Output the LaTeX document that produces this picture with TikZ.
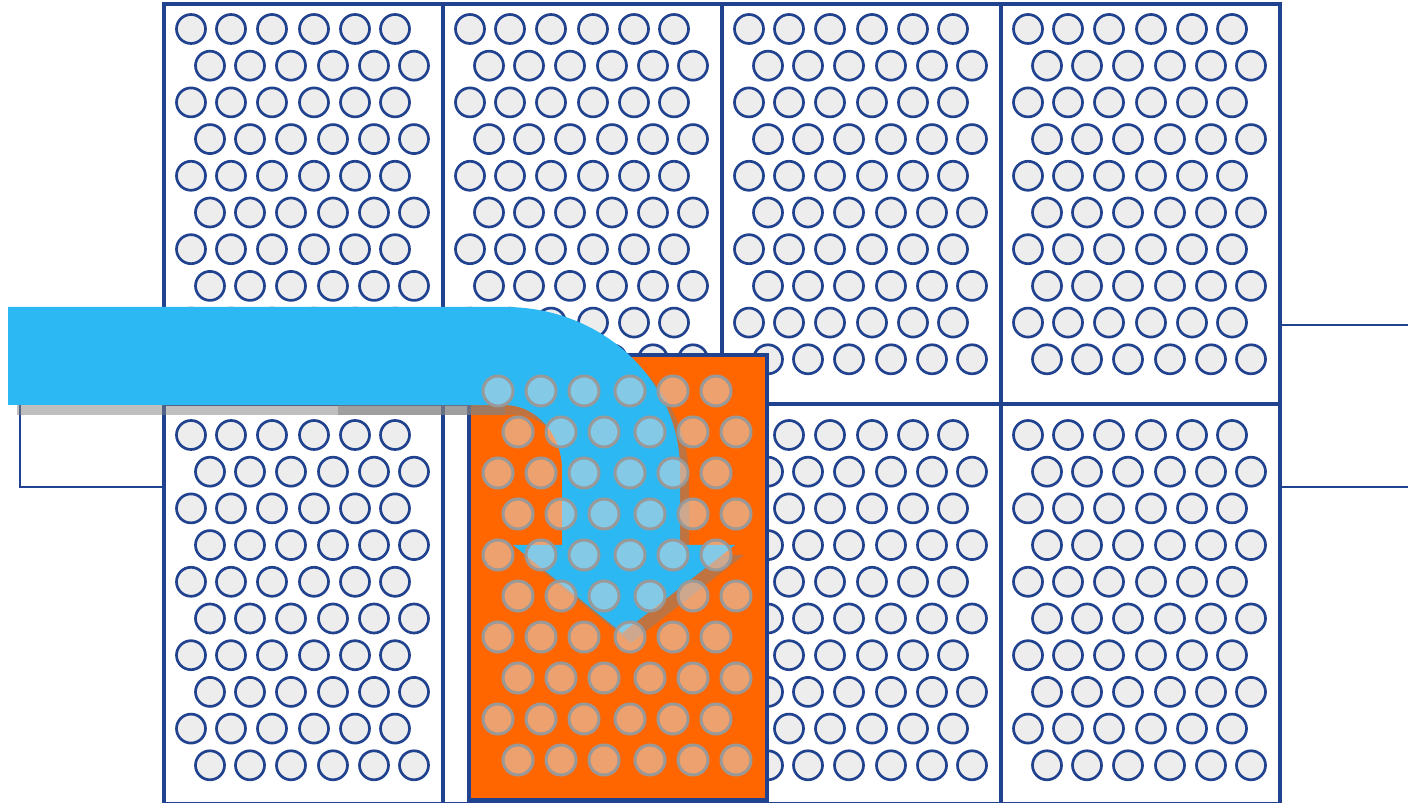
\documentclass[tikz,border=0pt]{standalone}
\usepackage{xcolor}
\usepackage{tikz}
\definecolor{pnlblue}{HTML}{21428F}
\definecolor{holegray}{HTML}{EDEDED}
\definecolor{slotgray}{HTML}{DDDDDD}
\definecolor{rimgray}{HTML}{999999}
\definecolor{shadegray}{HTML}{808080}
\definecolor{slideorange}{HTML}{FF6600}
\definecolor{flowblue}{HTML}{2BB8F3}

\begin{document}
\begin{tikzpicture}[x=0.1mm,y=-0.1mm,
  panel/.style={draw=pnlblue,line width=0.4mm},
  hole/.style={draw=pnlblue,fill=holegray,line width=0.27mm},
  ohole/.style={draw=rimgray,fill=slotgray,fill opacity=0.5,line width=0.3mm},
  rail/.style={draw=pnlblue,line width=0.28mm},
  slide/.style={draw=pnlblue,fill=slideorange,line width=0.4mm},
  flow/.style={fill=flowblue},
  flowshade/.style={fill=shadegray,opacity=0.5}]
\useasboundingbox (0,0) rectangle (1408,803);

% ---- rails behind the frame --------------------------------------------
\draw[rail] (1430,325) -- (20,325) -- (20,487) -- (1430,487);

% ---- the frame: four columns, two rows ---------------------------------
\fill[white] (164,4) rectangle (1280,804);
\foreach \c in {0,...,3}
  \foreach \r in {0,1}
    \draw[panel] ({164+279*\c},{4+400*\r}) rectangle ++(279,400);

% ---- holes of the fixed panels (the pulled one has its own) -------------
\foreach \c/\r in {0/0,1/0,2/0,3/0,0/1,2/1,3/1}
  \foreach \k in {0,...,9}
    \foreach \dx in {27,67,108,150,191,231}
      \draw[hole] ({164+279*\c+\dx+19*mod(\k,2)},{29+406*\r+36.7*\k}) circle[radius=1.45mm];

% ---- the pulled-out panel ----------------------------------------------
\draw[slide] (469,355) rectangle (767,800);

% ---- the flow, its shadow first ----------------------------------------
\begin{scope}[shift={(9,10)}]
  \fill[flowshade] (8,307) -- (505,307) .. controls (602,307) and (680,380) .. (680,470)
    -- (680,545) -- (735,545) -- (622,633) -- (513,545) -- (562,545) -- (562,470)
    .. controls (562,434) and (536,405) .. (505,405) -- (8,405) -- cycle;
\end{scope}
\fill[flowshade] (338,405) rectangle (505,415);
\fill[flow] (8,307) -- (505,307) .. controls (602,307) and (680,380) .. (680,470)
  -- (680,545) -- (735,545) -- (622,633) -- (513,545) -- (562,545) -- (562,470)
  .. controls (562,434) and (536,405) .. (505,405) -- (8,405) -- cycle;

% ---- holes of the pulled panel, seen through ---------------------------
\foreach \k in {0,...,9}
  \foreach \dx in {29,72,115,161,204,247}
    \draw[ohole] ({469+\dx+20*mod(\k,2)},{391+41*\k}) circle[radius=1.5mm];
\end{tikzpicture}
\end{document}
